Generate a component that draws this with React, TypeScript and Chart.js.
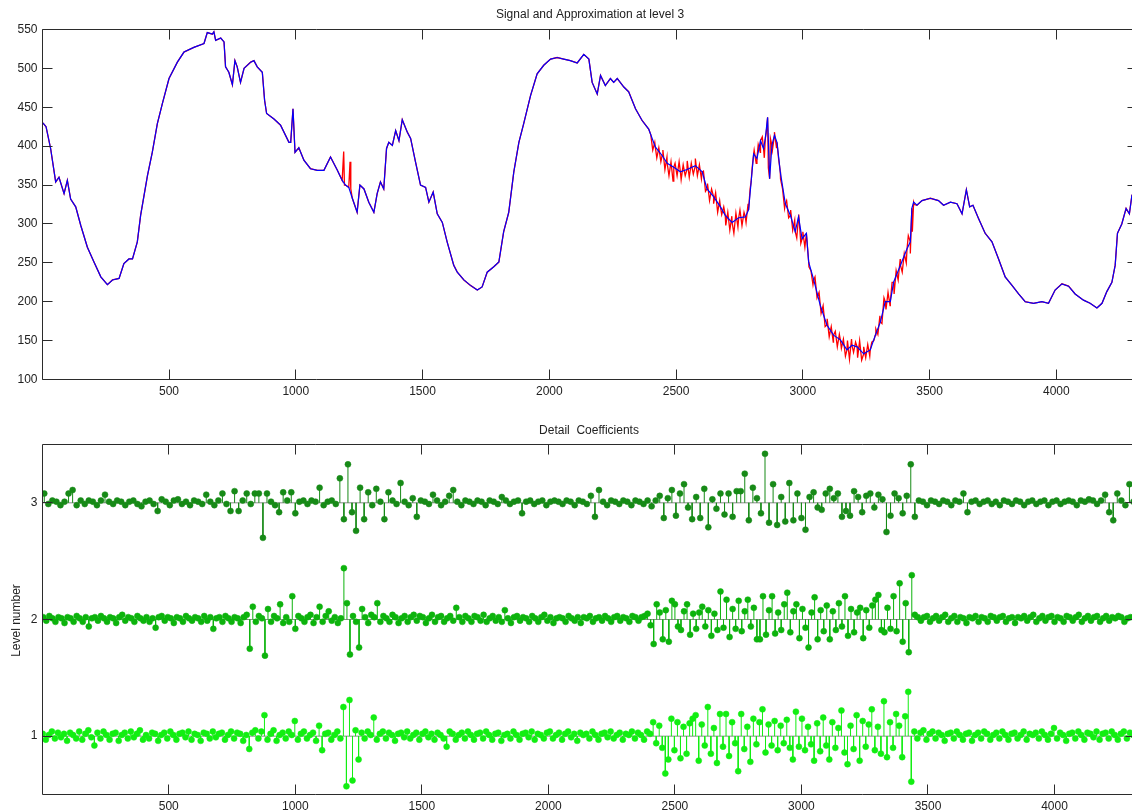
import React, { useEffect, useRef } from "react";
import { Chart, registerables } from "chart.js";

Chart.register(...registerables);

// ---------- axes ----------
const X_MIN = 1;
const X_MAX = 4320;
const xTickValues = [500, 1000, 1500, 2000, 2500, 3000, 3500, 4000];
const signalTickValues = [100, 150, 200, 250, 300, 350, 400, 450, 500, 550];
const levelTickValues = [1, 2, 3];

const topTitle = "Signal and Approximation at level 3";
const bottomTitle = "Detail  Coefficients";
const levelAxisLabel = "Level number";

// ---------- approximation (blue) ----------
const approxX = [
  1, 5, 15, 33, 53, 66, 86, 99, 112, 132, 152, 178, 204, 231, 257, 277, 303, 322, 342, 356,
  375, 388, 415, 434, 454, 474, 500, 533, 559, 598, 638, 651, 671, 677, 684, 704, 717, 723, 736, 750,
  760, 769, 782, 796, 822, 835, 848, 868, 877, 885, 914, 940, 973, 980, 989, 997, 1012, 1032, 1058, 1085,
  1111, 1137, 1164, 1183, 1196, 1209, 1223, 1242, 1253, 1269, 1288, 1308, 1321, 1334, 1347, 1358, 1367, 1381, 1394, 1407,
  1420, 1440, 1453, 1472, 1492, 1512, 1525, 1542, 1558, 1578, 1597, 1623, 1637, 1663, 1689, 1716, 1735, 1755, 1781, 1801,
  1820, 1840, 1860, 1880, 1899, 1926, 1952, 1978, 2005, 2031, 2057, 2083, 2110, 2136, 2156, 2169, 2189, 2202, 2221, 2241,
  2254, 2268, 2294, 2313, 2340, 2366, 2392, 2418, 2445, 2465, 2491, 2517, 2543, 2576, 2603, 2622, 2648, 2675, 2694, 2721,
  2747, 2773, 2786, 2796, 2806, 2819, 2833, 2845, 2852, 2861, 2869, 2878, 2888, 2898, 2911, 2931, 2951, 2970, 2983, 2997,
  3014, 3023, 3043, 3069, 3095, 3121, 3148, 3174, 3194, 3214, 3240, 3266, 3286, 3306, 3325, 3345, 3358, 3385, 3411, 3424,
  3430, 3437, 3450, 3470, 3503, 3535, 3555, 3582, 3608, 3628, 3645, 3658, 3671, 3693, 3719, 3746, 3772, 3798, 3825, 3851,
  3877, 3910, 3943, 3969, 3995, 4022, 4048, 4074, 4107, 4133, 4160, 4180, 4199, 4219, 4232, 4241, 4258, 4275, 4288, 4298,
  4320,
];
const approxY = [
  430, 429, 425, 397, 354, 360, 339, 356, 332, 322, 298, 270, 251, 232, 222, 228, 230, 249, 255, 255,
  277, 311, 362, 392, 429, 455, 487, 508, 521, 527, 532, 546, 544, 547, 536, 539, 534, 502, 495, 479,
  510, 502, 482, 500, 508, 510, 502, 495, 459, 442, 435, 427, 405, 405, 448, 392, 398, 382, 371, 369,
  369, 386, 369, 356, 350, 347, 333, 315, 350, 345, 328, 315, 339, 354, 345, 397, 405, 401, 420, 407,
  434, 418, 410, 380, 350, 347, 328, 341, 313, 302, 277, 247, 238, 228, 221, 215, 219, 238, 245, 251,
  290, 315, 367, 405, 429, 465, 493, 504, 512, 514, 512, 510, 507, 518, 512, 482, 467, 491, 478, 487,
  482, 487, 476, 470, 448, 433, 422, 399, 388, 378, 373, 367, 370, 375, 367, 345, 335, 322, 311, 302,
  308, 309, 318, 354, 390, 384, 407, 397, 410, 437, 358, 401, 414, 405, 367, 326, 311, 290, 309, 281,
  288, 251, 228, 195, 170, 157, 151, 138, 144, 142, 133, 138, 157, 174, 200, 200, 225, 247, 268, 277,
  320, 328, 324, 330, 333, 330, 324, 328, 326, 313, 344, 322, 324, 307, 288, 277, 255, 232, 221, 210,
  200, 198, 200, 198, 215, 223, 220, 210, 202, 198, 192, 198, 213, 225, 247, 288, 300, 320, 313, 337,
  345,
];

// ---------- signal (red): extra samples where it departs from the approximation ----------
const burstStartX = 2400;
const burstStepX = 8;
const burstY = [
  415, 395, 405, 385, 398, 380, 395, 370, 386, 362,
  380, 355, 378, 362, 380, 357, 376, 362, 381, 360,
  378, 364, 384, 362, 376, 358, 368, 342, 352, 330,
  345, 326, 340, 315, 330, 312, 322, 298, 315, 292,
  310, 288, 314, 296, 318, 298, 315, 302, 326, 345,
  372, 395, 378, 402, 392, 412, 385, 418, 372, 410,
  395, 418, 398, 385, 358, 345, 320, 330, 308, 318,
  292, 305, 282, 312, 275, 290, 270, 288, 245, 240,
  222, 232, 205, 212, 185, 195, 168, 178, 155, 168,
  148, 162, 142, 158, 140, 152, 130, 150, 126, 152,
  135, 148, 128, 150, 125, 142, 128, 145, 130, 148,
  150, 165, 158, 182, 172, 205, 190, 212, 195, 225,
  210, 240, 228, 255, 238, 262, 250, 285, 262, 290,
  325,
];
const spikeX = [1189, 1192, 1214, 1217];
const spikeY = [393, 350, 380, 345];

// ---------- detail coefficients ----------
const d3Start = 8, d3Step = 16;
const d3 = [
  .08, -.01, .02, .01, -.02, .01, .08, .11, -.02, .02,
  -.01, .02, .01, -.02, .02, .07, .01, -.01, .02, .01,
  -.02, .01, .02, -.01, -.03, .01, .02, -.01, -.07, .03,
  .01, -.02, .02, .03, -.01, .01, -.02, .02, .01, -.01,
  .07, .01, -.02, .02, .08, -.01, -.07, .10, -.07, .02,
  .08, -.01, .08, .08, -.30, .08, .01, -.02, -.08, .09,
  .02, .09, -.09, .01, .02, -.01, .02, .01, .13, -.02,
  .01, .02, -.01, .21, -.14, .33, -.08, -.24, .13, -.14,
  .09, -.02, .12, .01, -.14, .09, .02, -.01, .17, .01,
  -.02, .04, -.12, .02, .01, -.01, .07, .02, -.02, .01,
  .06, .11, .01, -.02, .02, .01, -.01, .02, .01, -.02,
  .02, .01, -.01, .05, .02, -.01, .01, .02, -.09, .01,
  .02, -.01, .01, .02, -.02, .01, .02, .01, -.01, .02,
  .01, -.02, .02, .01, -.01, .06, -.12, .11, .01, -.02,
  .02, .01, -.01, .02, .01, -.02, .02, .01, -.01, .02,
  -.03, .02, .06, -.13, .04, .11, -.11, .08, .16, -.04,
  -.14, .05, -.13, .12, -.21, .03, -.05, .08, -.10, .08,
  -.12, .10, .10, .25, -.15, .13, .04, -.09, .42, -.17,
  .16, -.19, .05, -.16, .17, -.15, .08, -.13, -.23, .05,
  .09, -.04, -.06, .08, .12, .04, .08, -.12, -.07, -.11,
  .10, .05, -.08, .06, .08, -.04, .07, .03, -.25, -.11,
  .08, .04, -.09, .06, .33, -.12, .02, .01, -.02, .02,
  .01, -.01, .02, .01, -.02, .02, .01, .08, -.08, .01,
  .02, -.01, .01, .02, -.01, .01, -.02, .02, .01, -.01,
  .02, .01, -.02, .01, .02, -.01, .01, .02, -.02, .01,
  .02, -.01, .01, .02, .01, -.02, .02, .01, .03, .02,
  -.01, .02, .07, -.08, -.15, .08, .02, -.02, .16, .01,
];

const d2Start = 4, d2Step = 12;
const d2 = [
  .02, -.01, .03, .01, -.02, .02, .01, -.03, .02, .01,
  -.02, .03, .01, -.02, .02, -.06, .01, .02, -.01, .03,
  .01, -.02, .02, .01, -.03, .02, .04, -.01, .02, .01,
  -.02, .03, .01, -.01, .02, -.02, .01, -.07, .02, .03,
  -.01, .02, .01, -.03, .02, .01, -.02, .03, .01, -.01,
  .02, .01, -.02, .03, -.01, .02, -.08, .01, .02, -.02,
  .03, .01, -.02, .02, .01, -.03, .02, .04, -.25, .11,
  -.02, .03, .01, -.31, .09, -.02, .03, .01, .13, -.03,
  .02, -.02, .20, -.08, .03, .01, -.02, .02, .04, -.03,
  .02, .11, -.02, .03, .07, -.01, .02, -.03, .01, .44,
  .14, -.30, .03, -.02, -.24, .09, .02, -.03, .04, .02,
  .14, -.02, .03, .01, -.02, .04, .02, -.03, .01, .03,
  -.02, .02, .04, -.01, .03, .02, -.03, .01, .04, -.02,
  .02, .03, -.02, .01, .03, -.01, .10, .02, -.02, .03,
  .01, -.02, .03, .02, -.01, .04, -.02, .01, .03, -.01,
  .02, -.02, .08, .01, -.03, .02, .03, -.01, .02, .01,
  -.02, .03, .01, -.02, .02, .04, -.01, .02, -.03, .01,
  .02, .01, -.02, .03, .01, -.01, .02, -.03, .02, .01,
  .03, -.02, .01, .02, -.01, .03, .01, -.02, .02, .03,
  -.01, .02, .01, -.02, .03, .02, -.01, .02, .03, .05,
  -.05, -.21, .13, .06, -.17, .08, -.19, .16, .13, -.06,
  -.09, .07, .13, -.13, .05, -.08, .06, .11, -.06, .08,
  -.14, .05, -.09, .24, -.07, .17, -.15, .09, -.08, .16,
  -.10, .07, .17, -.06, .10, -.17, -.17, .20, -.13, .08,
  .20, -.12, .06, -.09, .13, .23, -.11, .07, .13, -.16,
  .09, -.07, -.24, .06, .19, -.17, .08, -.10, .12, -.17,
  .07, -.09, .14, -.06, .20, -.14, .09, -.11, .06, .10,
  -.16, .08, -.07, .12, .17, .21, -.09, -.11, .10, -.08,
  .20, -.10, .31, -.19, .14, -.28, .38, .04, .02, -.01,
  .02, .03, -.02, .01, .03, -.01, .02, .04, -.02, .01,
  .03, -.02, .02, .01, -.03, .02, .01, .03, -.02, .02,
  .01, -.02, .03, .02, -.01, .02, .03, -.02, .01, .02,
  -.03, .02, .01, .03, -.01, .02, .04, -.02, .01, .03,
  -.01, .02, .03, -.02, .02, .01, -.02, .03, .02, -.01,
  .02, .04, -.02, .01, .03, -.01, .02, .03, -.02, .01,
  .03, -.01, .02, .01, .03, .02, -.02, .01, .02, .02,
];

const d1Start = 2, d1Step = 12;
const d1 = [
  .02, -.03, .01, .04, -.02, .03, -.01, .02, -.04, .03,
  .01, -.02, .04, -.03, .02, .05, -.01, -.08, .03, -.02,
  .04, .01, -.03, .02, .03, -.04, .01, .03, -.02, .04,
  -.01, .02, .05, -.03, .01, -.02, .03, .02, -.04, .01,
  .03, -.02, .04, .01, -.03, .02, .03, -.01, .04, -.03,
  .02, .01, -.04, .03, .02, -.02, .04, -.01, .02, .03,
  -.03, .01, .04, -.02, .03, .02, -.04, .01, -.11, .03,
  .05, -.02, .04, .18, -.03, .02, .05, -.04, .01, .03,
  -.02, .04, .01, .13, -.03, .02, .04, -.02, .01, .03,
  -.04, .09, -.12, .02, .03, -.03, .01, .04, -.02, .25,
  -.43, .31, -.38, .05, -.20, .03, -.02, .04, .01, .16,
  -.03, .02, .04, -.02, .03, .01, -.04, .02, .03, -.01,
  .04, -.02, .01, .03, -.03, .02, .04, -.01, .02, -.03,
  .03, .01, -.02, -.09, .04, .02, -.03, .01, .03, -.02,
  .04, .01, -.03, .02, .03, -.02, .04, .01, -.03, .02,
  .03, -.04, .01, .02, -.02, .04, .01, -.03, .02, .03,
  -.01, .04, -.03, .02, .01, -.02, .03, .04, -.02, .01,
  .03, -.03, .02, .04, -.01, .02, -.04, .03, .01, .02,
  -.02, .04, .01, -.03, .02, .03, -.01, .04, -.02, .01,
  .03, -.03, .02, .01, .04, -.02, .03, .01, -.03, .04,
  .02, .12, -.06, .09, -.10, -.32, -.20, .15, -.12, .12,
  -.19, .08, -.15, .11, .15, .18, -.21, .10, -.08, .25,
  -.15, .07, -.23, .19, -.09, .19, -.17, .12, -.06, -.30,
  .19, -.11, .08, -.22, .15, -.07, .12, .23, -.14, .10,
  -.08, .13, -.12, .09, -.06, .14, -.10, -.20, .21, -.09,
  .15, -.12, .08, -.07, -.21, .11, -.13, .16, -.08, -.20,
  .12, -.10, .07, .22, -.14, -.24, .09, -.11, .18, -.21,
  .13, -.09, .10, .23, -.12, .08, -.15, .30, -.18, .12,
  -.10, .19, .09, -.18, .17, .38, -.39, .04, -.02, .03,
  .05, -.03, .02, .04, -.02, .03, .01, -.04, .02, .03,
  -.02, .04, .01, -.03, .02, .03, -.04, .01, .03, -.02,
  .04, .02, -.03, .01, .03, -.02, .04, .01, -.03, .02,
  .03, -.02, .01, .04, -.03, .02, .01, .03, -.02, .04,
  .01, -.03, .02, .07, -.02, .03, .01, -.04, .02, .03,
  -.02, .04, .01, -.03, .03, .02, -.01, .04, -.03, .02,
  .03, -.02, .04, .01, -.03, .02, .04, -.02, .03, .01,
];

// ---------- styling ----------
const FONT = '"Liberation Sans", Arial, sans-serif';
const TEXT = "#222222";
const FRAME = "#2b2b2b";
const level3Color = "#178a17";
const level2Color = "#0db30d";
const level1Color = "#12ee12";

type Pt = { x: number; y: number | null };

function buildApprox(): Pt[] {
  return approxX.map((x, i) => ({ x, y: approxY[i] }));
}

function buildSignal(): Pt[] {
  const pts: Pt[] = buildApprox();
  burstY.forEach((y, i) => pts.push({ x: burstStartX + i * burstStepX, y }));
  spikeX.forEach((x, i) => pts.push({ x, y: spikeY[i] }));
  pts.sort((a, b) => a.x - b.x);
  return pts;
}

function stems(values: number[], start: number, step: number, level: number): Pt[] {
  const pts: Pt[] = [];
  values.forEach((v, i) => {
    const x = start + i * step;
    pts.push({ x, y: level }, { x, y: level + v }, { x, y: null });
  });
  return pts;
}

function heads(values: number[], start: number, step: number, level: number): Pt[] {
  return values.map((v, i) => ({ x: start + i * step, y: level + v }));
}

const framePlugin = {
  id: "matFrame",
  afterDraw(chart: any, _args: any, opts: any) {
    const { ctx, chartArea: a, scales } = chart;
    const L = Math.round(a.left - 0.5) + 0.5;
    const R = Math.round(a.right - 0.5) + 0.5;
    const T = Math.round(a.top - 0.5) + 0.5;
    const B = Math.round(a.bottom - 0.5) + 0.5;
    const tl = 10;
    ctx.save();
    ctx.strokeStyle = FRAME;
    ctx.lineWidth = 1;
    ctx.beginPath();
    ctx.rect(L, T, R - L, B - T);
    (opts.xTicks || []).forEach((v: number) => {
      const p = Math.round(scales.x.getPixelForValue(v) - 0.5) + 0.5;
      ctx.moveTo(p, B);
      ctx.lineTo(p, B - tl);
      ctx.moveTo(p, T);
      ctx.lineTo(p, T + tl);
    });
    (opts.yTicks || []).forEach((v: number) => {
      const p = Math.round(scales.y.getPixelForValue(v) - 0.5) + 0.5;
      ctx.moveTo(L, p);
      ctx.lineTo(L + tl, p);
      ctx.moveTo(R, p);
      ctx.lineTo(R - tl, p);
    });
    ctx.stroke();

    ctx.fillStyle = TEXT;
    ctx.font = `12px ${FONT}`;
    ctx.textAlign = "center";
    ctx.textBaseline = "middle";
    ctx.fillText(opts.title, (a.left + a.right) / 2, opts.titleY);
    if (opts.yLabel) {
      ctx.translate(opts.yLabelX, (a.top + a.bottom) / 2 + 1);
      ctx.rotate(-Math.PI / 2);
      ctx.fillText(opts.yLabel, 0, 0);
    }
    ctx.restore();
  },
};

const plainNumber = (v: any) => String(v);

function xScale(height: number) {
  return {
    type: "linear",
    min: X_MIN,
    max: X_MAX,
    grid: { display: false, drawTicks: false },
    border: { display: false },
    ticks: { color: TEXT, font: { family: FONT, size: 12 }, padding: 5, maxRotation: 0, callback: plainNumber },
    afterBuildTicks: (s: any) => {
      s.ticks = xTickValues.map((value) => ({ value }));
    },
    afterFit: (s: any) => {
      s.height = height;
    },
  };
}

function yScale(min: number, max: number, values: number[]) {
  return {
    type: "linear",
    min,
    max,
    grid: { display: false, drawTicks: false },
    border: { display: false },
    ticks: { color: TEXT, font: { family: FONT, size: 12 }, padding: 5, callback: plainNumber },
    afterBuildTicks: (s: any) => {
      s.ticks = values.map((value) => ({ value }));
    },
    afterFit: (s: any) => {
      s.width = 42.5;
    },
  };
}

export default function App() {
  const topRef = useRef<HTMLCanvasElement>(null);
  const bottomRef = useRef<HTMLCanvasElement>(null);

  useEffect(() => {
    const top = new Chart(topRef.current as HTMLCanvasElement, {
      type: "scatter",
      data: {
        datasets: [
          {
            label: "Approximation",
            data: buildApprox(),
            showLine: true,
            borderColor: "#0000ff",
            borderWidth: 1.2,
            pointRadius: 0,
            order: 0,
          },
          {
            label: "Signal",
            data: buildSignal(),
            showLine: true,
            borderColor: "#ff0000",
            borderWidth: 1.3,
            pointRadius: 0,
            order: 1,
          },
        ],
      } as any,
      options: {
        animation: false,
        responsive: false,
        events: [],
        layout: { padding: { top: 29.5, right: 2.5, left: 0, bottom: 0 } },
        plugins: {
          legend: { display: false },
          tooltip: { enabled: false },
          matFrame: { title: topTitle, titleY: 15, xTicks: xTickValues, yTicks: signalTickValues },
        } as any,
        scales: {
          x: xScale(30.5),
          y: yScale(100, 550, signalTickValues),
        } as any,
      },
      plugins: [framePlugin],
    });

    const levels = [
      { level: 3, values: d3, start: d3Start, step: d3Step, color: level3Color },
      { level: 2, values: d2, start: d2Start, step: d2Step, color: level2Color },
      { level: 1, values: d1, start: d1Start, step: d1Step, color: level1Color },
    ];
    const datasets: any[] = [];
    levels.forEach((l) => {
      datasets.push({
        label: `baseline ${l.level}`,
        data: [
          { x: X_MIN, y: l.level },
          { x: X_MAX, y: l.level },
        ],
        showLine: true,
        borderColor: "#8a8a8a",
        borderWidth: 1,
        pointRadius: 0,
        order: 5,
      });
      datasets.push({
        label: `stems ${l.level}`,
        data: stems(l.values, l.start, l.step, l.level),
        showLine: true,
        spanGaps: false,
        borderColor: l.color,
        borderWidth: 1,
        pointRadius: 0,
        order: 3,
      });
      datasets.push({
        label: `d${l.level}`,
        data: heads(l.values, l.start, l.step, l.level),
        showLine: false,
        pointRadius: 3,
        pointBackgroundColor: l.color,
        pointBorderColor: l.color,
        pointBorderWidth: 0.5,
        order: 1,
      });
    });

    const bottom = new Chart(bottomRef.current as HTMLCanvasElement, {
      type: "scatter",
      data: { datasets },
      options: {
        animation: false,
        responsive: false,
        events: [],
        layout: { padding: { top: 34.5, right: 2.5, left: 0, bottom: 0 } },
        plugins: {
          legend: { display: false },
          tooltip: { enabled: false },
          matFrame: {
            title: bottomTitle,
            titleY: 21,
            xTicks: xTickValues,
            yTicks: levelTickValues,
            yLabel: levelAxisLabel,
            yLabelX: 17,
          },
        } as any,
        scales: {
          x: xScale(17.5),
          y: yScale(0.5, 3.5, levelTickValues),
        } as any,
      },
      plugins: [framePlugin],
    });

    return () => {
      top.destroy();
      bottom.destroy();
    };
  }, []);

  return (
    <div
      style={{
        position: "fixed",
        left: 0,
        top: 0,
        width: 1132,
        height: 812,
        overflow: "hidden",
        background: "#ffffff",
      }}
    >
      <canvas
        ref={topRef}
        width={1140}
        height={410}
        style={{ position: "absolute", left: 0, top: 0, width: 1140, height: 410 }}
      />
      <canvas
        ref={bottomRef}
        width={1140}
        height={402}
        style={{ position: "absolute", left: 0, top: 410, width: 1140, height: 402 }}
      />
    </div>
  );
}
